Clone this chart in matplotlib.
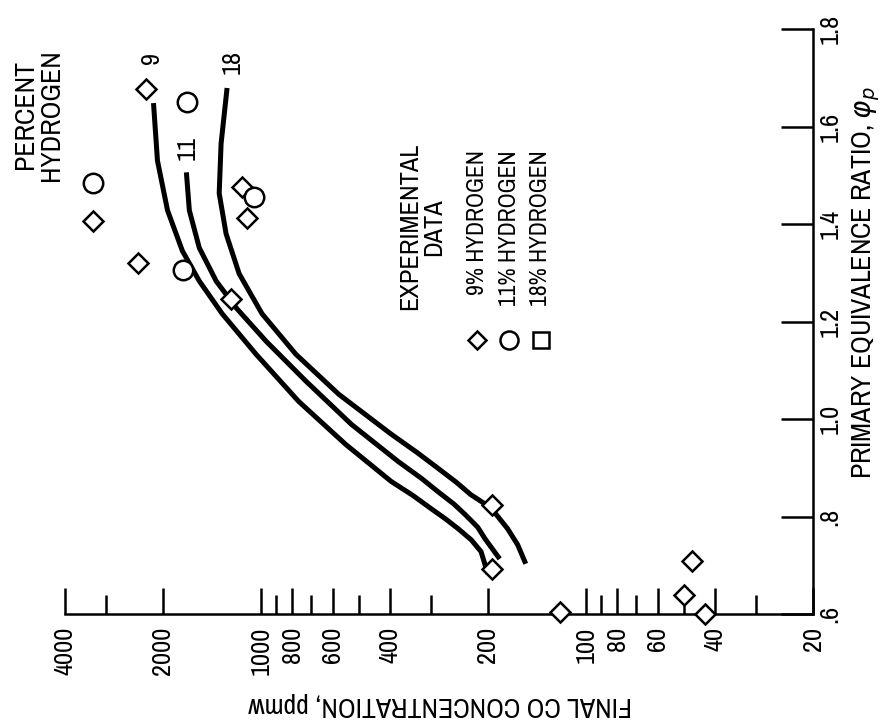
import matplotlib
matplotlib.use('Agg')
import matplotlib.pyplot as plt
import matplotlib.ticker as mticker
from matplotlib import font_manager

#
# Final CO concentration against primary equivalence ratio
# (chart is drawn turned on its side, like the scanned original)
#

# experimental data, 9 percent hydrogen (diamonds)
co_h9 = [2260, 3280, 2380, 1140, 1100, 1230, 195, 195, 120, 47, 50, 43]
phi_h9 = [1.677, 1.407, 1.320, 1.475, 1.413, 1.246, 0.824, 0.693, 0.605, 0.709, 0.639, 0.600]

# experimental data, 11 percent hydrogen (circles)
co_h11 = [1680, 3280, 1730, 1050]
phi_h11 = [1.650, 1.485, 1.305, 1.455]

# faired curves, percent hydrogen 9, 11, 18
curve9_co = [2137, 2078, 1935, 1742, 1545, 1314, 1034, 764, 548, 397, 340, 299, 270, 247, 225, 210, 200]
curve9_phi = [1.648, 1.530, 1.428, 1.345, 1.283, 1.216, 1.133, 1.036, 0.948, 0.872, 0.843, 0.816, 0.795, 0.775, 0.752, 0.728, 0.682]
curve11_co = [1693, 1658, 1545, 1371, 1190, 964, 727, 526, 378, 320, 285, 255, 235, 215, 204, 184]
curve11_phi = [1.506, 1.428, 1.351, 1.283, 1.228, 1.160, 1.078, 0.989, 0.913, 0.878, 0.851, 0.826, 0.804, 0.778, 0.754, 0.713]
curve18_co = [1269, 1324, 1342, 1278, 1165, 991, 780, 576, 397, 330, 285, 250, 226, 196, 174, 162, 153]
curve18_phi = [1.679, 1.565, 1.463, 1.380, 1.298, 1.216, 1.133, 1.051, 0.969, 0.931, 0.899, 0.870, 0.845, 0.818, 0.775, 0.742, 0.703]

co_major = [4000, 2000, 1000, 800, 600, 400, 200, 100, 80, 60, 40, 20]
co_minor = [3000, 900, 700, 500, 300, 90, 70, 50, 30]
phi_ticks = [0.6, 0.8, 1.0, 1.2, 1.4, 1.6, 1.8]
phi_labels = ['.6', '.8', '1.0', '1.2', '1.4', '1.6', '1.8']

#
# The original lettering is narrow; use a condensed face if one is installed
#
def pick_font():
  found = []
  for f in font_manager.fontManager.ttflist:
    narrow = ('ondensed' in f.name or 'Narrow' in f.name
              or f.stretch in ('condensed', 'semi-condensed', 'extra-condensed'))
    if narrow and f.style == 'normal' and f.weight in (400, 'normal', 'regular', 'book'):
      found.append(f)
  if found:
    found.sort(key=lambda f: (f.stretch != 'condensed', f.name))
    return font_manager.FontProperties(fname=found[0].fname), 1.0
  return font_manager.FontProperties(family='DejaVu Sans'), 0.8

base_fp, scale = pick_font()

def font(size):
  p = base_fp.copy()
  p.set_size(size * scale)
  return p

fp_tick = font(19)
fp_title = font(20)
fp_note = font(19)
fp_legend = font(17)
fp_big = font(20)
lw_axis = 1.8

fig = plt.figure(figsize=(8.84, 7.28), dpi=100)
ax = fig.add_axes([65/884, 1-614/728, 748/884, 585/728])

ax.set_xscale('log')
ax.set_xlim(4000, 20)
ax.set_ylim(0.6, 1.8)

for side in ['left', 'top']:
  ax.spines[side].set_visible(False)
for side in ['bottom', 'right']:
  ax.spines[side].set_linewidth(lw_axis)

ax.set_xticks(co_major, labels=[str(v) for v in co_major])
ax.set_xticks(co_minor, minor=True)
ax.xaxis.set_minor_formatter(mticker.NullFormatter())
ax.tick_params(axis='x', which='major', direction='in', length=19, width=lw_axis,
               labelrotation=90, pad=9)
ax.tick_params(axis='x', which='minor', direction='in', length=14, width=lw_axis)

ax.yaxis.tick_right()
ax.set_yticks(phi_ticks, labels=phi_labels)
ax.tick_params(axis='y', which='major', direction='in', length=23, width=lw_axis,
               labelrotation=90, pad=4)
for lab in ax.get_xticklabels() + ax.get_yticklabels():
  lab.set_fontproperties(fp_tick)
for lab in ax.get_yticklabels():
  lab.set_va('center')

# curves
for co, phi in [(curve9_co, curve9_phi), (curve11_co, curve11_phi), (curve18_co, curve18_phi)]:
  ax.plot(co, phi, color='black', lw=3.6, solid_capstyle='butt', solid_joinstyle='round', zorder=2)

# data points
mstyle = dict(ls='none', mfc='white', mec='black', mew=1.8, clip_on=False, zorder=3)
ax.plot(co_h9, phi_h9, marker='D', ms=10, **mstyle)
ax.plot(co_h11, phi_h11, marker='o', ms=14, **mstyle)

# curve labels
txt = dict(rotation=90, transform=ax.transAxes)
ax.text(0.116, 0.950, '9', ha='center', va='center', fontproperties=fp_note, **txt)
ax.text(0.163, 0.797, '11', ha='center', va='center', fontproperties=fp_note, **txt)
ax.text(0.224, 0.944, '18', ha='center', va='center', fontproperties=fp_note, **txt)
ax.text(-0.036, 0.853, 'PERCENT\nHYDROGEN', ha='center', va='center', fontproperties=fp_big,
        multialignment='center', linespacing=1.05, clip_on=False, **txt)

# legend block, built by hand since it is rotated
ax.text(0.477, 0.662, 'EXPERIMENTAL\nDATA', ha='center', va='center', fontproperties=fp_note,
        multialignment='center', linespacing=1.05, **txt)
leg_x = [0.551, 0.594, 0.636]
leg_marker = ['D', 'o', 's']
leg_ms = [9, 13, 11]
leg_text = ['9% HYDROGEN', '11% HYDROGEN', '18% HYDROGEN']
for x, m, ms, t in zip(leg_x, leg_marker, leg_ms, leg_text):
  ax.plot([x], [0.468], marker=m, ms=ms, transform=ax.transAxes, **mstyle)
  ax.text(x, 0.793, t, ha='center', va='top', fontproperties=fp_legend, **txt)

# axis titles
fig.text(440/884, 1-705/728, 'FINAL CO CONCENTRATION, ppmw', rotation=180,
         ha='center', va='center', fontproperties=fp_title)
fig.text(866/884, 1-283/728, r'PRIMARY EQUIVALENCE RATIO, $\varphi_p$', rotation=90,
         ha='center', va='center', fontproperties=fp_title)

fig.savefig('out.png', dpi=100, facecolor='white')
